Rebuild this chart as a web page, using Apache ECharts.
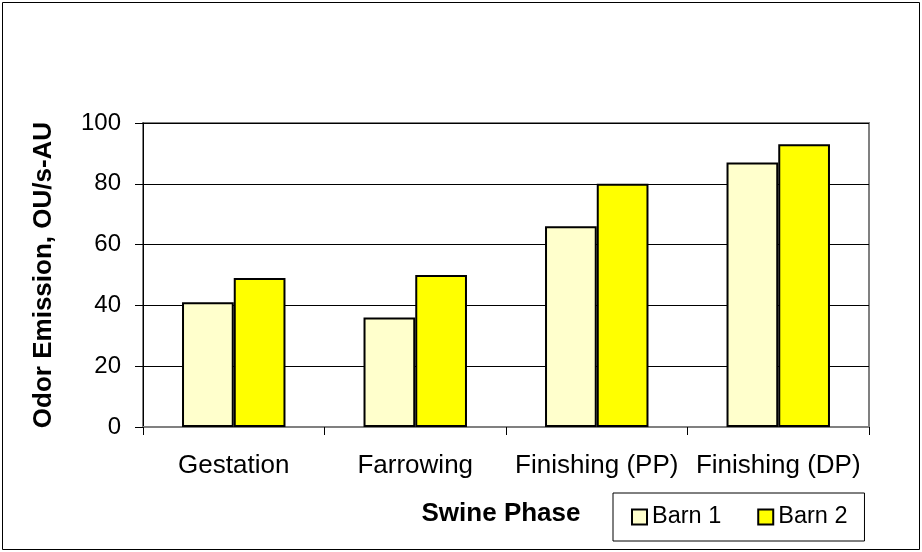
<!DOCTYPE html>
<html>
<head>
<meta charset="utf-8">
<script src="https://cdn.jsdelivr.net/npm/echarts@6/dist/echarts.min.js"></script>
<style>html,body{margin:0;padding:0;background:#fff}#c{width:922px;height:552px}</style>
</head>
<body>
<div id="c"></div>
<script>
var categories = ['Gestation', 'Farrowing', 'Finishing (PP)', 'Finishing (DP)'];
var barn1 = [41, 36, 66, 87];
var barn2 = [49, 50, 80, 93];
var seriesNames = ['Barn 1', 'Barn 2'];
var yTicks = [0, 20, 40, 60, 80, 100];

var FONT = '"Liberation Sans", Arial, sans-serif';
var chart = echarts.init(document.getElementById('c'), null, {renderer: 'canvas'});
chart.setOption({
  animation: false,
  backgroundColor: '#fff',
  graphic: [{
    type: 'rect', shape: {x: 2.5, y: 2.5, width: 917, height: 547},
    style: {fill: 'none', stroke: '#000', lineWidth: 1}, silent: true, z: -1
  }],
  grid: {left: 143, right: 53, top: 123, bottom: 125, show: true, borderColor: '#808080', borderWidth: 2, backgroundColor: 'transparent'},
  legend: {
    data: seriesNames,
    left: 613, top: 493,
    itemWidth: 15, itemHeight: 15, itemGap: 36,
    padding: [12, 17, 12, 18],
    borderColor: '#000', borderWidth: 1,
    icon: 'rect',
    textStyle: {fontFamily: FONT, fontSize: 23.5, color: '#000'}
  },
  xAxis: {
    type: 'category', data: categories,
    name: 'Swine Phase', nameLocation: 'middle', nameGap: 74,
    nameTextStyle: {fontFamily: FONT, fontSize: 26, fontWeight: 'bold', color: '#000', padding: [0, 10, 0, 0]},
    axisLine: {lineStyle: {color: '#808080', width: 2}},
    axisTick: {show: true, inside: false, length: 8, interval: 0, lineStyle: {color: '#000'}, alignWithLabel: false},
    axisLabel: {fontFamily: FONT, fontSize: 26, color: '#000', margin: 26, interval: 0},
    splitLine: {show: false}
  },
  yAxis: {
    type: 'value', min: 0, max: 100, interval: 20,
    name: 'Odor Emission, OU/s-AU', nameLocation: 'middle', nameGap: 86,
    nameTextStyle: {fontFamily: FONT, fontSize: 26, fontWeight: 'bold', color: '#000'},
    axisLine: {show: true, lineStyle: {color: '#000', width: 1}},
    axisTick: {show: true, inside: false, length: 8, lineStyle: {color: '#000'}},
    axisLabel: {fontFamily: FONT, fontSize: 24, color: '#000', margin: 22,
      formatter: function (v) { return yTicks.indexOf(v) >= 0 ? String(v) : ''; }},
    splitLine: {show: true, lineStyle: {color: '#000', width: 1}}
  },
  series: [
    {name: seriesNames[0], type: 'bar', data: barn1, barGap: '0%', barCategoryGap: '43%',
     itemStyle: {color: '#FFFFCC', borderColor: '#000', borderWidth: 2}},
    {name: seriesNames[1], type: 'bar', data: barn2, barGap: '0%', barCategoryGap: '43%',
     itemStyle: {color: '#FFFF00', borderColor: '#000', borderWidth: 2}}
  ]
});
</script>
</body>
</html>
